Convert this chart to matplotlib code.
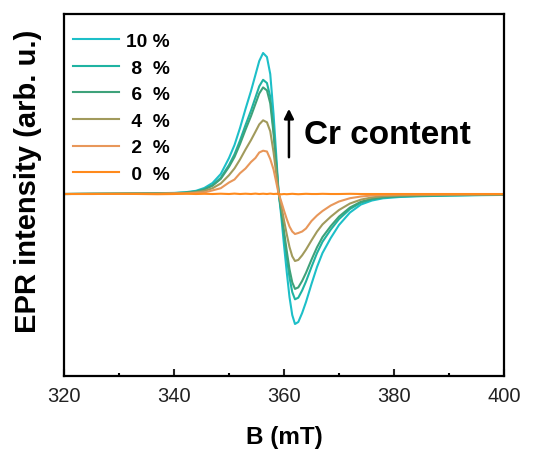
import numpy as np
import matplotlib.pyplot as plt

plt.rcParams['font.family'] = ['Liberation Sans', 'DejaVu Sans']

# magnetic field (mT)
field = [320, 325, 330, 334, 337, 340, 342, 344, 345.5, 347, 348.5, 350, 351, 352,
         353, 354, 354.8, 355.5, 356.2, 356.9, 357.5, 358.1, 358.6, 359.0, 359.5,
         360.0, 360.5, 361.0, 361.5, 362.0, 362.6, 363.3, 364.0, 365.0, 366.0,
         367.0, 368.5, 370, 372, 374, 376, 378, 381, 385, 390, 395, 400]

# EPR derivative signal (arb. u.) for each Cr content
cr10 = [0, 0.2, 0.4, 0.6, 0.8, 1.1, 1.7, 3.2, 6, 11, 20, 36, 49, 66, 85, 103, 119,
        133, 141, 137, 120, 80, 38, 3, -22, -51, -78, -103, -121, -130, -128,
        -119, -108, -90, -73, -59, -44, -31, -18.5, -10.5, -6.5, -4.3, -3, -2.2,
        -1.6, -1.2, -0.9]
cr8 = [0, 0.2, 0.3, 0.5, 0.7, 0.9, 1.4, 2.6, 4.9, 8.9, 16.2, 29, 39.7, 53.5,
       68.9, 83.4, 96.4, 107.7, 114.2, 111, 97.2, 64.8, 30.8, 2.4, -17.8, -41.3,
       -63.2, -83.4, -98, -105.3, -103.7, -96.4, -87.5, -72.9, -59.1, -47.8,
       -35.6, -25.1, -15, -8.6, -5.3, -3.5, -2.4, -1.8, -1.3, -1, -0.7]
cr6 = [0, 0.2, 0.3, 0.5, 0.6, 0.8, 1.3, 2.4, 4.5, 8.3, 15.1, 27.2, 37, 49.9, 64.3,
       77.9, 90, 100.5, 106.6, 103.6, 90.7, 60.5, 28.7, 2.3, -16.1, -37.2, -56.9,
       -75.2, -88.3, -94.9, -93.4, -86.9, -78.8, -65.7, -53.3, -43.1, -32.1,
       -22.6, -13.5, -7.7, -4.8, -3.2, -2.2, -1.6, -1.2, -0.9, -0.7]
cr4 = [0, 0.1, 0.2, 0.3, 0.4, 0.6, 0.9, 1.7, 3.1, 5.8, 10.5, 18.8, 25.6, 34.5,
       44.5, 53.9, 62.2, 69.6, 73.7, 71.7, 62.8, 41.8, 19.9, 1.6, -11.3, -26.3,
       -40.2, -53, -62.3, -67, -65.9, -61.3, -55.6, -46.4, -37.6, -30.4, -22.7,
       -16, -9.5, -5.6, -3.4, -2.2, -1.5, -1.1, -0.8, -0.6, -0.5]
cr2 = [0, 0.2, 0.1, 0.3, 0.2, 0.6, 0.5, 1.2, 1.6, 3.6, 5.8, 11.5, 14.5, 20.8, 25.5,
       32, 36, 41.5, 43.3, 42.5, 35, 24.5, 11.5, 1, -7.5, -16.5, -25, -32.5,
       -37.5, -40, -39, -37.5, -34.5, -27, -21.5, -17, -11.5, -7.5, -4.2, -2.5,
       -1.5, -0.9, -0.6, -0.4, -0.3, -0.2, -0.1]
cr0 = [0, 0, 0.2, 0, -0.2, 0, 0.3, 0, 0.2, 0, 0.3, 0, 0.4, 0, 0.3, 0, 0.4, 0,
       0.3, 0, 0.4, 0, 0.2, 0, -0.3, 0, -0.2, 0, 0.2, 0, -0.2, 0, 0.2, 0, 0,
       0.2, 0, 0, 0.2, 0, 0, 0, 0, 0, 0, 0, 0]

labels = ['10 %', ' 8  %', ' 6  %', ' 4  %', ' 2  %', ' 0  %']
series = [cr10, cr8, cr6, cr4, cr2, cr0]
colors = ['#1dbfc8', '#1fb3a2', '#3ea27a', '#a19a5c', '#e8975a', '#ff8a1c']

fig = plt.figure(figsize=(5.37, 4.52), dpi=100)
ax = fig.add_axes([0.1192, 0.1659, 0.8193, 0.8009])

for y, lab, c in zip(series, labels, colors):
    ax.plot(field, y, color=c, lw=1.5, label=lab, solid_joinstyle='round')

ax.set_xlim(320, 400)
ax.set_ylim(-182, 180)
ax.set_xticks([320, 340, 360, 380, 400])
ax.set_xticks([330, 350, 370, 390], minor=True)
ax.set_yticks([])
ax.tick_params(axis='x', which='major', direction='in', length=5, width=1.5,
               labelsize=14.5, pad=7, colors='#222222')
ax.tick_params(axis='x', which='minor', direction='in', length=2.5, width=1.5)
for s in ax.spines.values():
    s.set_linewidth(1.6)

ax.set_xlabel('B (mT)', fontsize=17.5, fontweight='bold')
ax.xaxis.set_label_coords(0.5, -0.135)
ax.set_ylabel('EPR intensity (arb. u.)', fontsize=21, fontweight='bold', va='center')
ax.yaxis.set_label_coords(-0.081, 0.54)

ax.legend(loc='upper left', bbox_to_anchor=(0.0205, 0.949), frameon=False,
          prop={'weight': 'bold', 'size': 13.8}, handlelength=2.4,
          handletextpad=0.36, labelspacing=0.48, borderpad=0, borderaxespad=0)

ax.annotate('', xy=(360.9, 88), xytext=(360.9, 34),
            arrowprops=dict(arrowstyle='-|>', color='black', lw=1.8,
                            mutation_scale=14))
ax.text(0.545, 0.668, 'Cr content', transform=ax.transAxes, fontsize=24,
        fontweight='bold', va='center', ha='left')

fig.savefig('out.png', dpi=100)
